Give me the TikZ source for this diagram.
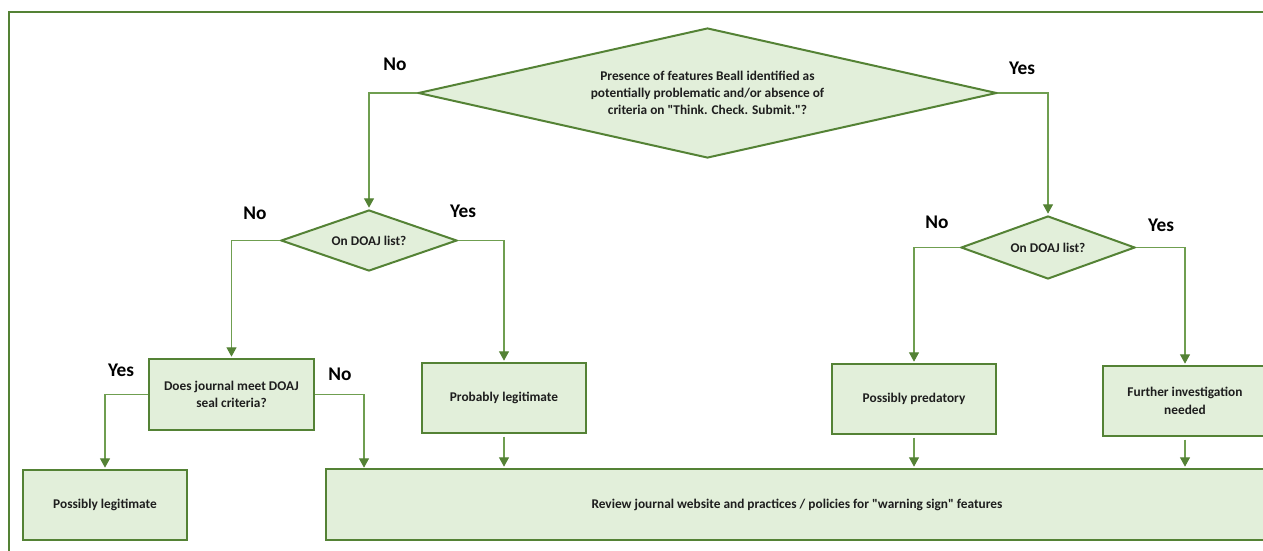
\documentclass[tikz,border=0pt]{standalone}
\usepackage{fontspec}
\setmainfont{Carlito}
\usetikzlibrary{shapes.geometric,arrows.meta}

\definecolor{leafline}{HTML}{548235}
\definecolor{leaffill}{HTML}{E2EFDA}
\definecolor{wireline}{HTML}{6F9E50}
\definecolor{inktext}{HTML}{1E1E1E}

\tikzset{
  decision/.style={diamond, draw=leafline, fill=leaffill, line width=1.5pt,
    inner sep=0pt, align=center, text=inktext,
    font=\fontsize{10}{13}\selectfont\bfseries},
  outcome/.style={rectangle, draw=leafline, fill=leaffill, line width=1.5pt,
    minimum width=123pt, minimum height=52.5pt, inner sep=0pt, align=center,
    text=inktext, font=\fontsize{10}{13}\selectfont\bfseries},
  answer/.style={text=black, font=\fontsize{14.5}{17}\selectfont\bfseries},
  wire/.style={draw=wireline, line width=0.8pt,
    -{Triangle[width=7.5pt,length=7pt,color=leafline]}, shorten >=1pt}
}

\begin{document}
\begin{tikzpicture}[x=0.75pt, y=-0.75pt]
  \useasboundingbox (0,0) rectangle (1263,550);
  \begin{scope}
    \clip (0,0) rectangle (1263,550);
    \draw[leafline, line width=1.5pt] (9,12) rectangle (1290,570);
  \end{scope}

  % decisions
  \node[decision, aspect=4.45, minimum width=434pt, minimum height=97.5pt] (main) at (707.5,93)
    {Presence of features Beall identified as\\potentially problematic and/or absence of\\criteria on \textquotedbl Think. Check. Submit.\textquotedbl?};
  \node[decision, aspect=2.9, minimum width=132pt, minimum height=45.75pt] (doajL) at (369,240.5) {On DOAJ list?};
  \node[decision, aspect=2.8, minimum width=130.5pt, minimum height=47.25pt] (doajR) at (1048,247.5) {On DOAJ list?};

  % outcomes
  \node[outcome, minimum width=123.75pt, minimum height=53.25pt] (seal) at (231.5,394.5)
    {Does journal meet DOAJ\\seal criteria?};
  \node[outcome] (possLeg) at (105,505) {Possibly legitimate};
  \node[outcome] (probLeg) at (504,398) {Probably legitimate};
  \node[outcome] (possPred) at (914,399) {Possibly predatory};
  \node[outcome] (further) at (1185,401) {Further investigation\\needed};
  \node[outcome, minimum width=706.5pt, minimum height=53.25pt] (review) at (797,504.5)
    {Review journal website and practices / policies for \textquotedbl warning sign\textquotedbl{} features};

  % yes / no labels
  \node[answer] (mainNo) at (395,64) {No};
  \node[answer] (mainYes) at (1022,68) {Yes};
  \node[answer] (doajLNo) at (255,213) {No};
  \node[answer] (doajLYes) at (463,211) {Yes};
  \node[answer] (doajRNo) at (937,222) {No};
  \node[answer] (doajRYes) at (1161,225) {Yes};
  \node[answer] (sealYes) at (121,370) {Yes};
  \node[answer] (sealNo) at (340,374) {No};

  \coordinate (sealDrop) at (364,469);

  % connectors
  \draw[wire] (main.west) -| (doajL.north);
  \draw[wire] (main.east) -| (doajR.north);
  \draw[wire] (doajL.west) -| (seal.north);
  \draw[wire] (doajL.east) -| (probLeg.north);
  \draw[wire] (doajR.west) -| (possPred.north);
  \draw[wire] (doajR.east) -| (further.north);
  \draw[wire] (seal.west) -| (possLeg.north);
  \draw[wire] (seal.east) -| (sealDrop);
  \draw[wire] ([yshift=-2pt]probLeg.south) -- (probLeg.south |- review.north);
  \draw[wire] ([yshift=-2pt]possPred.south) -- (possPred.south |- review.north);
  \draw[wire] ([yshift=-2pt]further.south) -- (further.south |- review.north);
\end{tikzpicture}
\end{document}
